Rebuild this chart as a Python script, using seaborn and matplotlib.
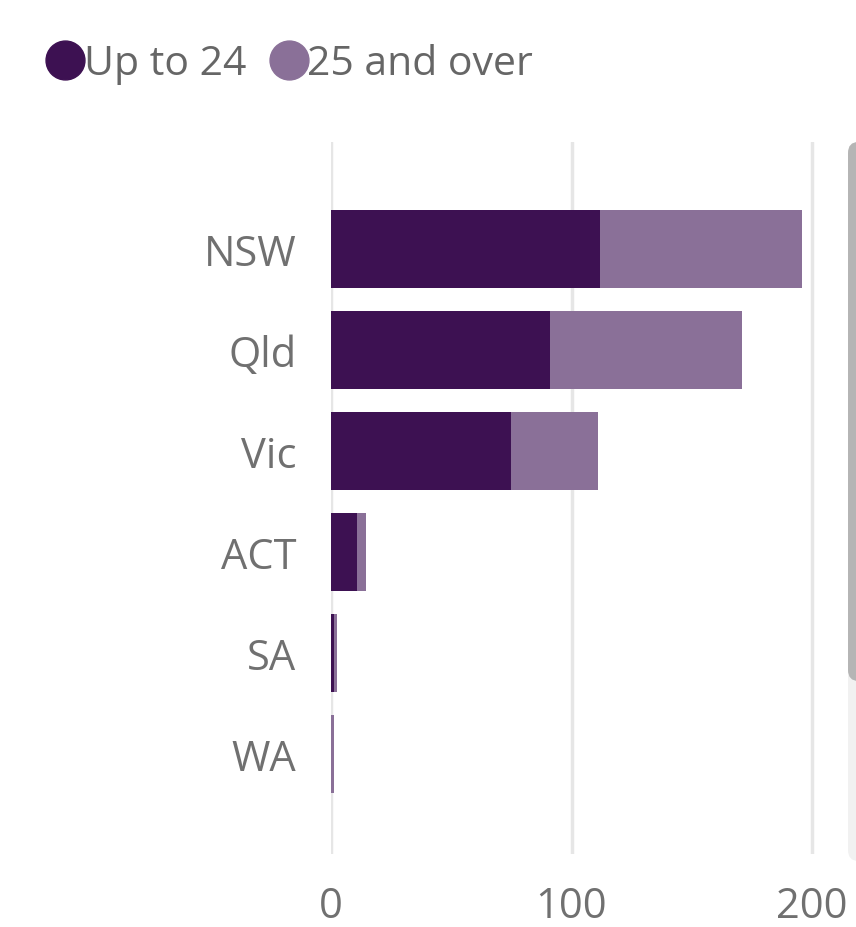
import matplotlib
matplotlib.use("Agg")
import matplotlib.pyplot as plt
import seaborn as sns
import pandas as pd
from matplotlib.lines import Line2D
from matplotlib.patches import FancyBboxPatch

states = ["NSW", "Qld", "Vic", "ACT", "SA", "WA"]
up_to_24 = [112, 91, 75, 11, 1.3, 0]
over_25 = [84, 80, 36, 3.5, 1.2, 1.2]
series_names = ["Up to 24", "25 and over"]
colors = ["#3D1152", "#8A7098"]
xticks = [0, 100, 200]

df = pd.DataFrame({"state": states, "young": up_to_24, "old": over_25})
df["total"] = df["young"] + df["old"]

sns.set_style("white")
plt.rcParams["font.family"] = ["Open Sans", "DejaVu Sans"]

fig = plt.figure(figsize=(8.56, 9.28), dpi=100)
ax = fig.add_axes([331 / 856, 1 - 855 / 928, (820 - 331) / 856, (855 - 143) / 928])

sns.barplot(data=df, x="total", y="state", color=colors[1], width=0.78,
            saturation=1, ax=ax, orient="h", linewidth=0, edgecolor="none")
sns.barplot(data=df, x="young", y="state", color=colors[0], width=0.78,
            saturation=1, ax=ax, orient="h", linewidth=0, edgecolor="none")

ax.set_xlim(0, 203.3)
ax.set_ylim(5.99, -1.06)
ax.set_xticks(xticks)
ax.set_xticklabels([str(t) for t in xticks])
ax.xaxis.grid(True, color="#E6E6E6", linewidth=2.5)
ax.set_axisbelow(True)
for s in ax.spines.values():
    s.set_visible(False)
ax.tick_params(axis="both", length=0, labelsize=30, colors="#707070")
ax.tick_params(axis="y", pad=25)
ax.tick_params(axis="x", pad=22)
ax.set_xlabel("")
ax.set_ylabel("")

handles = [Line2D([0], [0], marker="o", linestyle="", markersize=28,
                  markerfacecolor=c, markeredgecolor=c) for c in colors]
fig.legend(handles, series_names, loc="center left",
           bbox_to_anchor=(20 / 856, 1 - 65 / 928), ncol=2, frameon=False,
           fontsize=29.5, labelcolor="#666666", handletextpad=-0.15,
           columnspacing=0.45, borderpad=0, handlelength=1.2)

# scrollbar track and thumb
track = FancyBboxPatch((848 / 856, 1 - 862 / 928), 20 / 856, (862 - 143) / 928,
                       boxstyle="round,pad=0,rounding_size=0.012",
                       transform=fig.transFigure, facecolor="#F1F1F1",
                       edgecolor="none", zorder=0)
thumb = FancyBboxPatch((848 / 856, 1 - 682 / 928), 20 / 856, (682 - 143) / 928,
                       boxstyle="round,pad=0,rounding_size=0.012",
                       transform=fig.transFigure, facecolor="#B5B5B5",
                       edgecolor="none", zorder=1)
fig.patches.extend([track, thumb])

fig.savefig("out.png", dpi=100)
